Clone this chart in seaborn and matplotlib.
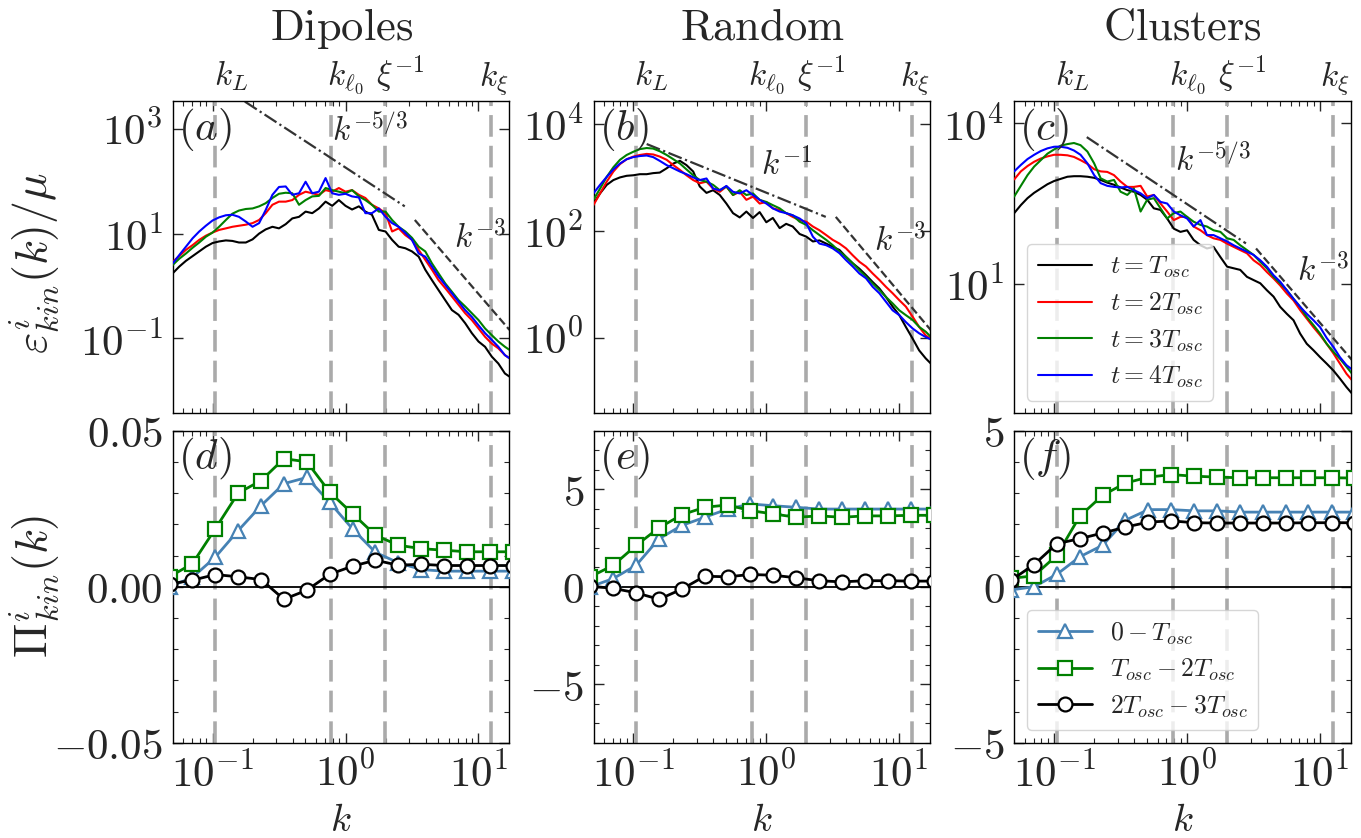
import numpy as np
import matplotlib
matplotlib.use("Agg")
import matplotlib.pyplot as plt
import seaborn as sns
from matplotlib.ticker import FixedLocator, FuncFormatter, LogLocator, NullLocator, MultipleLocator

# ---------------- data ----------------
titles = ["Dipoles", "Random", "Clusters"]
top_tags = ["(a)", "(b)", "(c)"]
bot_tags = ["(d)", "(e)", "(f)"]

# wavenumbers of the spectra
k_spec = [0.0501, 0.0562, 0.0631, 0.0708, 0.0794, 0.0891, 0.1, 0.112, 0.126, 0.141,
          0.158, 0.178, 0.2, 0.224, 0.251, 0.282, 0.316, 0.355, 0.398, 0.447,
          0.501, 0.562, 0.631, 0.708, 0.794, 0.891, 1.0, 1.12, 1.26, 1.41,
          1.58, 1.78, 2.0, 2.24, 2.51, 2.82, 3.16, 3.55, 3.98, 4.47,
          5.01, 5.62, 6.31, 7.08, 7.94, 8.91, 10.0, 11.2, 12.6, 14.1, 15.8, 17.8]

# log10 of eps_kin(k)/mu, t = 1,2,3,4 T_osc
dip_t1 = [0.24, 0.37, 0.48, 0.57, 0.66, 0.75, 0.82, 0.85, 0.87, 0.86, 0.83, 0.83, 0.89, 1.00, 1.08, 1.13, 1.10, 1.18, 1.29, 1.32, 1.42, 1.39, 1.48, 1.61, 1.53, 1.64,
          1.53, 1.46, 1.52, 1.42, 1.36, 1.07, 1.04, 0.88, 0.75, 0.72, 0.66, 0.56, 0.31, 0.11, -0.08, -0.27, -0.46, -0.55, -0.71, -0.90, -1.06, -1.16, -1.35, -1.48, -1.67, -1.76]
dip_t2 = [0.46, 0.57, 0.69, 0.78, 0.88, 0.96, 1.02, 1.07, 1.10, 1.13, 1.15, 1.17, 1.20, 1.26, 1.39, 1.55, 1.61, 1.61, 1.64, 1.74, 1.80, 1.77, 1.74, 1.83, 1.80, 1.87,
          1.80, 1.83, 1.74, 1.68, 1.55, 1.48, 1.39, 1.04, 1.10, 0.97, 0.88, 0.69, 0.50, 0.31, 0.11, -0.04, -0.20, -0.36, -0.52, -0.65, -0.81, -0.97, -1.10, -1.19, -1.32, -1.41]
dip_t3 = [0.40, 0.52, 0.62, 0.73, 0.83, 0.94, 1.02, 1.13, 1.26, 1.38, 1.44, 1.47, 1.48, 1.52, 1.58, 1.68, 1.76, 1.78, 1.77, 1.55, 1.64, 1.71, 1.72, 1.87, 1.83, 1.80,
          1.77, 1.83, 1.71, 1.64, 1.55, 1.42, 1.42, 1.26, 1.13, 1.04, 0.92, 0.75, 0.66, 0.43, 0.24, 0.05, -0.11, -0.27, -0.39, -0.52, -0.65, -0.81, -0.94, -1.06, -1.16, -1.25]
dip_t4 = [0.43, 0.59, 0.75, 0.91, 1.04, 1.15, 1.25, 1.31, 1.35, 1.36, 1.32, 1.23, 1.13, 1.20, 1.45, 1.74, 1.89, 1.90, 1.74, 1.77, 1.99, 1.77, 1.80, 2.06, 1.77, 1.74,
          1.76, 1.71, 1.69, 1.39, 1.39, 1.48, 1.32, 1.20, 1.13, 1.01, 0.88, 0.62, 0.56, 0.37, 0.18, 0.02, -0.14, -0.30, -0.46, -0.59, -0.75, -0.90, -1.03, -1.16, -1.32, -1.41]

rnd_t1 = [2.51, 2.70, 2.86, 2.95, 3.00, 3.03, 3.04, 3.06, 3.06, 3.08, 3.09, 3.17, 3.26, 3.31, 3.23, 3.11, 2.83, 2.71, 2.76, 2.67, 2.51, 2.33, 2.25, 2.36, 2.24, 2.35,
          2.16, 2.24, 2.05, 2.13, 2.08, 1.94, 1.89, 1.80, 1.82, 1.76, 1.70, 1.64, 1.51, 1.39, 1.29, 1.17, 1.04, 0.92, 0.76, 0.58, 0.42, 0.20, -0.02, -0.24, -0.39, -0.52]
rnd_t2 = [2.48, 2.70, 2.92, 3.11, 3.25, 3.34, 3.39, 3.42, 3.44, 3.43, 3.39, 3.33, 3.23, 3.14, 3.04, 2.95, 2.89, 2.92, 2.79, 2.73, 2.83, 2.67, 2.73, 2.58, 2.64, 2.51,
          2.54, 2.42, 2.39, 2.33, 2.26, 2.20, 2.17, 2.08, 2.01, 1.92, 1.83, 1.76, 1.67, 1.54, 1.42, 1.33, 1.20, 1.08, 0.95, 0.83, 0.70, 0.58, 0.39, 0.20, 0.04, -0.05]
rnd_t3 = [2.58, 2.79, 3.01, 3.19, 3.33, 3.42, 3.48, 3.53, 3.55, 3.54, 3.49, 3.42, 3.34, 3.26, 3.15, 3.04, 2.95, 2.92, 2.86, 2.76, 2.83, 2.67, 2.76, 2.67, 2.70, 2.58,
          2.54, 2.48, 2.42, 2.33, 2.29, 2.17, 2.11, 2.01, 1.92, 1.83, 1.73, 1.61, 1.51, 1.39, 1.26, 1.14, 1.01, 0.89, 0.76, 0.64, 0.51, 0.42, 0.33, 0.20, 0.11, -0.02]
rnd_t4 = [2.70, 2.86, 3.01, 3.15, 3.26, 3.34, 3.38, 3.40, 3.41, 3.38, 3.31, 3.23, 3.17, 3.11, 3.06, 3.00, 2.95, 2.98, 2.79, 2.76, 2.84, 2.73, 2.70, 2.76, 2.67, 2.58,
          2.51, 2.42, 2.36, 2.33, 2.29, 2.23, 2.14, 1.89, 1.76, 1.73, 1.67, 1.58, 1.45, 1.33, 1.20, 1.11, 0.95, 0.83, 0.67, 0.51, 0.42, 0.29, 0.17, 0.08, 0.01, -0.05]

clu_t1 = [2.32, 2.47, 2.60, 2.70, 2.78, 2.86, 2.92, 2.96, 3.00, 3.01, 3.01, 3.00, 2.98, 2.94, 2.89, 2.85, 2.80, 2.75, 2.72, 2.66, 2.57, 2.41, 2.38, 2.22, 2.03, 1.97,
          2.00, 1.82, 1.72, 1.66, 1.69, 1.50, 1.32, 1.29, 1.26, 1.13, 1.07, 1.01, 0.88, 0.76, 0.57, 0.44, 0.32, 0.07, -0.12, -0.24, -0.37, -0.49, -0.62, -0.77, -0.93, -1.08]
clu_t2 = [2.95, 3.10, 3.20, 3.28, 3.34, 3.38, 3.41, 3.41, 3.40, 3.37, 3.31, 3.24, 3.14, 3.10, 3.09, 3.03, 2.91, 2.81, 2.81, 2.83, 2.63, 2.66, 2.50, 2.35, 2.19, 2.25,
          2.25, 2.07, 2.00, 1.91, 1.85, 1.82, 1.75, 1.69, 1.63, 1.57, 1.44, 1.35, 1.22, 1.10, 0.97, 0.82, 0.69, 0.51, 0.35, 0.19, 0.04, -0.12, -0.30, -0.49, -0.68, -0.83]
clu_t3 = [2.63, 2.83, 3.03, 3.19, 3.31, 3.43, 3.51, 3.58, 3.61, 3.63, 3.59, 3.47, 3.25, 2.97, 2.91, 2.94, 2.72, 2.66, 2.78, 2.35, 2.57, 2.60, 2.41, 2.22, 2.32, 2.35,
          2.25, 2.16, 2.10, 2.07, 2.00, 1.97, 1.85, 1.82, 1.72, 1.63, 1.54, 1.41, 1.29, 1.13, 1.01, 0.88, 0.72, 0.57, 0.38, 0.23, 0.07, -0.12, -0.27, -0.40, -0.55, -0.71]
clu_t4 = [3.10, 3.22, 3.33, 3.41, 3.48, 3.53, 3.56, 3.56, 3.54, 3.49, 3.41, 3.25, 3.03, 2.88, 2.83, 2.81, 2.80, 2.81, 2.75, 2.69, 2.60, 2.66, 2.53, 2.50, 2.35, 2.28,
          2.22, 2.07, 2.19, 1.91, 1.91, 1.85, 1.79, 1.72, 1.66, 1.60, 1.54, 1.44, 1.32, 1.16, 1.04, 0.88, 0.72, 0.57, 0.44, 0.32, 0.19, -0.01, -0.18, -0.37, -0.52, -0.62]

# guide power laws: end points (k, E)
guide_dashdot_k = [[0.175, 2.79], [0.126, 2.8], [0.176, 2.77]]
guide_dashdot_E = [[3311, 33.1], [4217, 182], [5495, 56.8]]
guide_dash_k = [[3.32, 17.1], [3.33, 17.3], [3.3, 17.5]]
guide_dash_E = [[18.2, 0.145], [182, 1.37], [45.7, 0.37]]
guide_text = [r"$k^{-5/3}$", r"$k^{-1}$", r"$k^{-5/3}$"]

# energy flux
k_flux = [0.0475, 0.0706, 0.105, 0.156, 0.232, 0.344, 0.512, 0.760,
          1.13, 1.68, 2.49, 3.71, 5.51, 8.18, 12.2, 18.1]
dip_p1 = [0.0, 0.003, 0.0095, 0.018, 0.026, 0.033, 0.035, 0.027, 0.0185, 0.011, 0.0077, 0.0055, 0.005, 0.005, 0.005, 0.005]
dip_p2 = [0.0032, 0.0074, 0.0186, 0.030, 0.034, 0.041, 0.040, 0.0303, 0.0234, 0.0165, 0.0133, 0.0122, 0.0117, 0.0112, 0.0112, 0.0112]
dip_p3 = [0.0009, 0.0021, 0.0039, 0.0032, 0.0023, -0.004, -0.0011, 0.004, 0.0066, 0.0085, 0.0069, 0.0072, 0.0068, 0.0068, 0.0068, 0.0068]
rnd_p1 = [0.0, 0.42, 1.1, 2.46, 3.14, 3.56, 3.98, 4.24, 4.15, 4.07, 3.98, 3.98, 3.98, 3.98, 3.98, 3.98]
rnd_p2 = [0.51, 1.10, 2.12, 3.02, 3.69, 4.07, 4.19, 3.90, 3.73, 3.56, 3.63, 3.56, 3.63, 3.63, 3.66, 3.66]
rnd_p3 = [0.03, -0.08, -0.31, -0.64, -0.12, 0.54, 0.51, 0.63, 0.59, 0.46, 0.31, 0.25, 0.31, 0.31, 0.29, 0.29]
clu_p1 = [-0.1, 0.0, 0.40, 0.96, 1.33, 2.13, 2.47, 2.47, 2.43, 2.43, 2.39, 2.39, 2.39, 2.39, 2.39, 2.39]
clu_p2 = [0.27, 0.35, 1.01, 2.26, 2.93, 3.32, 3.51, 3.59, 3.54, 3.51, 3.49, 3.49, 3.49, 3.49, 3.49, 3.48]
clu_p3 = [0.21, 0.71, 1.38, 1.54, 1.72, 1.91, 2.07, 2.11, 2.05, 2.04, 2.04, 2.04, 2.04, 2.05, 2.05, 2.05]

# characteristic scales
k_marks = [0.105, 0.78, 1.98, 12.4]
k_mark_labels = [r"$k_L$", r"$k_{\ell_0}$", r"$\xi^{-1}$", r"$k_\xi$"]
k_mark_label_pos = [0.137, 1.0, 2.6, 13.0]

spectra = [[dip_t1, dip_t2, dip_t3, dip_t4],
           [rnd_t1, rnd_t2, rnd_t3, rnd_t4],
           [clu_t1, clu_t2, clu_t3, clu_t4]]
fluxes = [[dip_p1, dip_p2, dip_p3], [rnd_p1, rnd_p2, rnd_p3], [clu_p1, clu_p2, clu_p3]]

spec_colors = ["black", "red", "green", "blue"]
spec_labels = [r"$t = T_{osc}$", r"$t = 2T_{osc}$", r"$t = 3T_{osc}$", r"$t = 4T_{osc}$"]
flux_colors = ["#4682B4", "green", "black"]
flux_markers = ["^", "s", "o"]
flux_labels = [r"$0 - T_{osc}$", r"$T_{osc} - 2T_{osc}$", r"$2T_{osc} - 3T_{osc}$"]

top_ylims = [(3.7e-3, 3.4e3), (0.038, 2.7e4), (0.038, 2.6e4)]
top_yticks = [[1e-1, 1e1, 1e3], [1e0, 1e2, 1e4], [1e1, 1e4]]
bot_ylims = [(-0.05, 0.05), (-8, 8), (-5, 5)]
bot_yticks = [[-0.05, 0.0, 0.05], [-5, 0, 5], [-5, 0, 5]]
bot_minor = [0.01, 1, 1]
bot_fmt = ["%.2f", "%d", "%d"]
guide_text_pos = [(0.472, 0.905), (0.496, 0.795), (0.476, 0.811)]
k3_text_pos = [(0.836, 0.561), (0.834, 0.554), (0.838, 0.458)]

# ---------------- plotting ----------------
sns.set_style("ticks")
plt.rcParams["font.family"] = ["DejaVu Serif"]
plt.rcParams["mathtext.fontset"] = "cm"

FS_TICK = 31
fig, axes = plt.subplots(2, 3, figsize=(13.61, 8.38), dpi=100, sharex=True)
fig.subplots_adjust(left=0.127, right=0.9927, bottom=0.1134, top=0.8795, wspace=0.25, hspace=0.055)

log_fmt = FuncFormatter(lambda v, p: r"$10^{%d}$" % int(round(np.log10(v))))

for j in range(3):
    ax = axes[0, j]
    for km in k_marks:
        ax.axvline(km, color="#aaaaaa", lw=2.6, dashes=(6, 2.5), zorder=1)
    for s, col, lab in zip(spectra[j], spec_colors, spec_labels):
        sns.lineplot(x=k_spec, y=10 ** np.array(s), ax=ax, color=col, lw=1.5,
                     label=lab, legend=False, zorder=3)
    ax.plot(guide_dashdot_k[j], guide_dashdot_E[j], color="#333333", lw=1.6, ls="-.", zorder=2)
    ax.plot(guide_dash_k[j], guide_dash_E[j], color="#333333", lw=1.6, ls="--", zorder=2)
    ax.text(*guide_text_pos[j], guide_text[j], transform=ax.transAxes, fontsize=24, va="center", ha="left")
    ax.text(*k3_text_pos[j], r"$k^{-3}$", transform=ax.transAxes, fontsize=24, va="center", ha="left")
    ax.set_xscale("log")
    ax.set_yscale("log")
    ax.set_ylim(*top_ylims[j])
    ax.yaxis.set_major_locator(FixedLocator(top_yticks[j]))
    ax.yaxis.set_minor_locator(NullLocator())
    ax.yaxis.set_major_formatter(log_fmt)
    ax.set_title(r"$\mathrm{%s}$" % titles[j], fontsize=32, pad=44)
    for kp, kl in zip(k_mark_label_pos, k_mark_labels):
        ax.text(kp, 1.05, kl, transform=ax.get_xaxis_transform(), fontsize=24,
                ha="center", va="baseline")
    ax.text(0.015, 0.985, r"$%s$" % top_tags[j], transform=ax.transAxes, fontsize=31, va="top", ha="left")
    ax.set_xlabel("")
    ax.set_ylabel("")

    ax = axes[1, j]
    for km in k_marks:
        ax.axvline(km, color="#aaaaaa", lw=2.6, dashes=(6, 2.5), zorder=1)
    ax.axhline(0, color="black", lw=1.3, zorder=2)
    for p, col, mk, lab in zip(fluxes[j], flux_colors, flux_markers, flux_labels):
        sns.lineplot(x=k_flux, y=p, ax=ax, color=col, lw=2.0, marker=mk, markersize=10,
                     markerfacecolor="white", markeredgecolor=col, markeredgewidth=1.6,
                     label=lab, legend=False, zorder=3)
    ax.set_ylim(*bot_ylims[j])
    ax.yaxis.set_major_locator(FixedLocator(bot_yticks[j]))
    ax.yaxis.set_minor_locator(MultipleLocator(bot_minor[j]))
    fmt = bot_fmt[j]
    ax.yaxis.set_major_formatter(FuncFormatter(lambda v, p, fmt=fmt: r"$%s$" % (fmt % v)))
    ax.text(0.015, 0.985, r"$%s$" % bot_tags[j], transform=ax.transAxes, fontsize=31, va="top", ha="left")
    ax.set_xlabel(r"$k$", fontsize=28)
    ax.xaxis.set_label_coords(0.5, -0.19)
    ax.set_ylabel("")

for ax in axes.flat:
    ax.set_xscale("log")
    ax.set_xlim(0.0503, 17.1)
    ax.xaxis.set_major_locator(LogLocator(base=10, numticks=10))
    ax.xaxis.set_minor_locator(LogLocator(base=10, subs=np.arange(2, 10), numticks=20))
    ax.tick_params(which="both", direction="in", top=True, right=True, labelsize=FS_TICK, pad=7)
    ax.tick_params(which="major", length=7, width=1)
    ax.tick_params(which="minor", length=3.5, width=0.8)
    for sp in ax.spines.values():
        sp.set_linewidth(1.0)
        sp.set_color("black")

for j in range(3):
    axes[1, j].xaxis.set_major_formatter(log_fmt)
    axes[0, j].tick_params(labelbottom=False)

axes[0, 0].set_ylabel(r"$\varepsilon^{i}_{kin}(k)/\mu$", fontsize=33)
axes[0, 0].yaxis.set_label_coords(-0.33, 0.48)
axes[1, 0].set_ylabel(r"$\Pi^{i}_{kin}(k)$", fontsize=33)
axes[1, 0].yaxis.set_label_coords(-0.33, 0.5)

leg_kw = dict(loc="lower left", fontsize=18.5, handlelength=2.1, handletextpad=0.7,
              labelspacing=0.4, framealpha=0.8, edgecolor="#cccccc")
axes[0, 2].legend(**leg_kw)
axes[1, 2].legend(**leg_kw)

fig.savefig("out.png", dpi=100)
